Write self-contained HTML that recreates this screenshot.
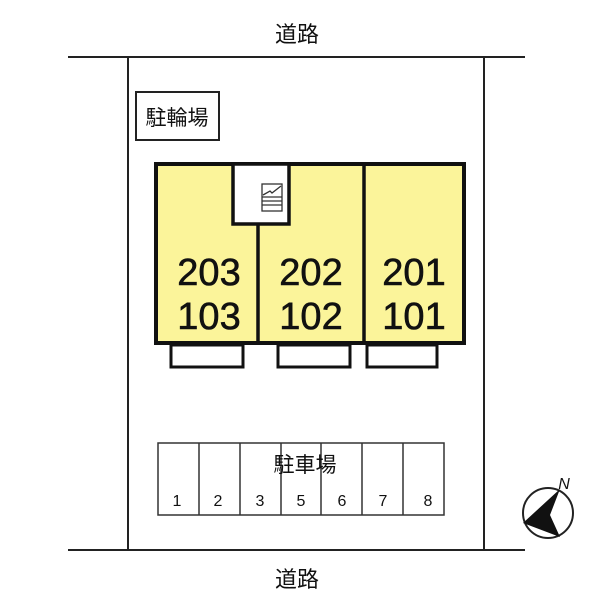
<!DOCTYPE html>
<html><head><meta charset="utf-8"><style>
body{margin:0;background:#fff;}
svg{display:block}
text{font-family:"Liberation Sans","Noto Sans CJK JP",sans-serif;fill:#111}
</style></head><body>
<svg width="600" height="600" viewBox="0 0 600 600" xmlns="http://www.w3.org/2000/svg">
<g stroke="#222" stroke-width="2" fill="none">
<line x1="68" y1="57" x2="525" y2="57"/>
<line x1="68" y1="550" x2="525" y2="550"/>
<line x1="128" y1="57" x2="128" y2="550"/>
<line x1="484" y1="57" x2="484" y2="550"/>
<rect x="136" y="92" width="83" height="48"/>
</g>
<text x="297" y="42" font-size="22" text-anchor="middle">道路</text>
<text x="297" y="587" font-size="22" text-anchor="middle">道路</text>
<text x="177" y="125" font-size="21" text-anchor="middle">駐輪場</text>
<rect x="156" y="164" width="308" height="179" fill="#fbf49a" stroke="#111" stroke-width="4"/>
<line x1="258" y1="222" x2="258" y2="343" stroke="#111" stroke-width="3.5"/>
<line x1="364" y1="164" x2="364" y2="343" stroke="#111" stroke-width="3.5"/>
<rect x="233" y="164" width="56" height="60" fill="#fff" stroke="#111" stroke-width="3.5"/>
<g stroke="#333" stroke-width="1.3" fill="#fff">
<rect x="262" y="184" width="20" height="27"/>
<line x1="262" y1="197" x2="282" y2="197"/><line x1="262" y1="201" x2="282" y2="201"/><line x1="262" y1="205" x2="282" y2="205"/>
<polyline points="263,195 270,191 272,193 281,186" fill="none"/>
</g>
<g stroke="#111" stroke-width="3" fill="#fff">
<rect x="171" y="345" width="72" height="22"/>
<rect x="278" y="345" width="72" height="22"/>
<rect x="367" y="345" width="70" height="22"/>
</g>
<g font-size="38" text-anchor="middle" stroke="#111" stroke-width="0.6">
<text x="209" y="285">203</text><text x="209" y="329">103</text>
<text x="311" y="285">202</text><text x="311" y="329">102</text>
<text x="414" y="285">201</text><text x="414" y="329">101</text>
</g>
<g stroke="#333" stroke-width="1.5" fill="none">
<rect x="158" y="443" width="286" height="72"/>
<line x1="199" y1="443" x2="199" y2="515"/><line x1="240" y1="443" x2="240" y2="515"/>
<line x1="281" y1="443" x2="281" y2="515"/><line x1="321" y1="443" x2="321" y2="515"/>
<line x1="362" y1="443" x2="362" y2="515"/><line x1="403" y1="443" x2="403" y2="515"/>
</g>
<text x="305" y="472" font-size="21" text-anchor="middle">駐車場</text>
<g font-size="16" text-anchor="middle">
<text x="177" y="506">1</text><text x="218" y="506">2</text><text x="260" y="506">3</text>
<text x="301" y="506">5</text><text x="342" y="506">6</text><text x="383" y="506">7</text><text x="428" y="506">8</text>
</g>
<circle cx="548" cy="513" r="25" fill="#fff" stroke="#222" stroke-width="2"/>
<polygon points="560,489 523,523 560,537 550,515" fill="#111"/>
<text x="564" y="489" font-size="16" font-style="italic" text-anchor="middle">N</text>
</svg>
</body></html>
